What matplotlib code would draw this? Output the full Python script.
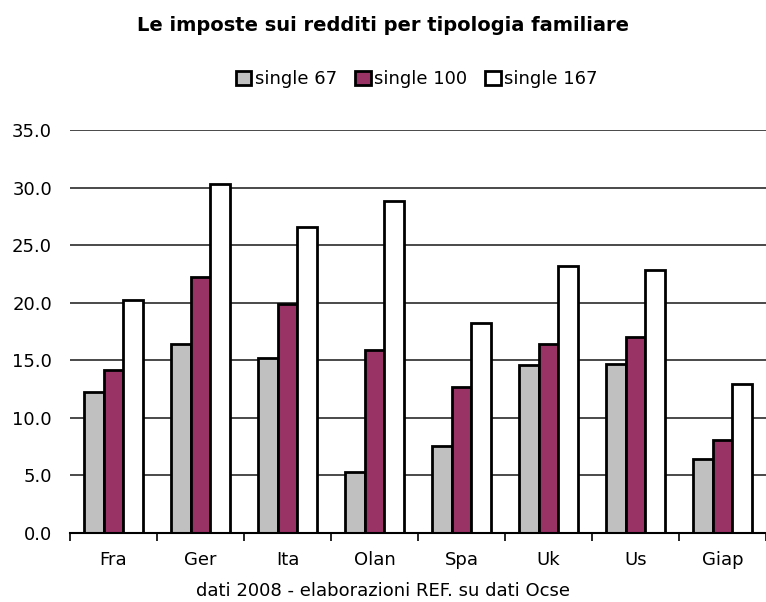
import matplotlib
matplotlib.use('Agg')
import matplotlib.pyplot as plt
import numpy as np

plt.rcParams['font.family'] = ['DejaVu Sans']

categories = ['Fra', 'Ger', 'Ita', 'Olan', 'Spa', 'Uk', 'Us', 'Giap']
series_names = ['single 67', 'single 100', 'single 167']
single_67 = [12.2, 16.4, 15.2, 5.3, 7.5, 14.6, 14.7, 6.4]
single_100 = [14.1, 22.2, 19.9, 15.9, 12.7, 16.4, 17.0, 8.1]
single_167 = [20.2, 30.3, 26.6, 28.8, 18.2, 23.2, 22.8, 12.9]
colors = ['#C0C0C0', '#993366', '#FFFFFF']

fig = plt.figure(figsize=(7.66, 6.02), dpi=100)
ax = fig.add_axes([0.0914, 0.1151, 0.9086, 0.669])

x = np.arange(len(categories))
w = 0.225
for i, (vals, name, c) in enumerate(zip([single_67, single_100, single_167], series_names, colors)):
    ax.bar(x + (i - 1) * w, vals, width=w, color=c, edgecolor='black',
           linewidth=2, label=name, zorder=3)

ax.set_xlim(-0.5, len(categories) - 0.5)
ax.set_ylim(0, 35)
yt = np.arange(0, 35.1, 5)
ax.set_yticks(yt)
ax.set_yticklabels(['{:.1f}'.format(v) for v in yt], fontsize=13)
ax.set_xticks(x)
ax.set_xticklabels(categories, fontsize=13)
ax.set_xticks(np.arange(-0.5, len(categories)), minor=True)
ax.tick_params(axis='x', which='major', length=0, pad=13)
ax.tick_params(axis='x', which='minor', length=6, width=1.2, color='black')
ax.tick_params(axis='y', length=0, pad=13)
ax.grid(axis='y', color='#2a2a2a', linewidth=1.2, zorder=0)
for s in ['left', 'right', 'top']:
    ax.spines[s].set_visible(False)
ax.spines['bottom'].set_linewidth(1.5)
ax.spines['bottom'].set_zorder(4)

fig.text(0.5, 1.5 / 602, 'dati 2008 - elaborazioni REF. su dati Ocse',
         ha='center', va='bottom', fontsize=13)
fig.text(0.5, 1 - 30.7 / 602, 'Le imposte sui redditi per tipologia familiare',
         ha='center', va='baseline', fontsize=14, fontweight='bold')
fig.legend(loc='center', bbox_to_anchor=(417 / 766, 1 - 79 / 602), ncol=3, frameon=False,
           fontsize=13, handlelength=0.85, handleheight=0.8, handletextpad=0.2,
           columnspacing=1.0)

fig.savefig('out.png', dpi=100)
